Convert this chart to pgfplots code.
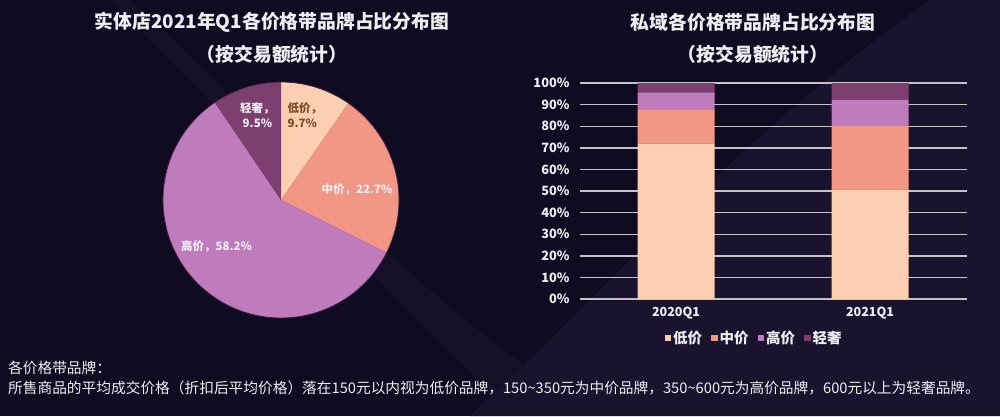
\documentclass[border=0pt]{standalone}
\usepackage{pgfplots}
\pgfplotsset{compat=1.18}
\usepackage{pgfplotstable}
\usepackage{fontspec}
\setmainfont{Noto Sans CJK SC}
\definecolor{bg}{HTML}{0F0B21}
\definecolor{bgl}{HTML}{19132E}
\definecolor{cLow}{HTML}{FDCFB2}
\definecolor{cMid}{HTML}{F29686}
\definecolor{cHigh}{HTML}{BF7BBB}
\definecolor{cLux}{HTML}{7D3F6F}
\definecolor{gridc}{HTML}{C4C2CC}
\definecolor{txt}{HTML}{EEEEF2}
\definecolor{lowtxt}{HTML}{7A4A28}

\pgfplotstableread{
q low mid high lux
0 72.1 15.5 8.1 4.3
1 50.8 29.1 12.4 7.7
}\bardata

\def\pLow{9.7}\def\pMid{22.7}\def\pHigh{58.2}\def\pLux{9.5}

\pgfplotsset{sq/.style={legend image code/.code={\fill[##1] (0pt,-3.5pt) rectangle (6.5pt,3pt);}}}

\begin{document}
\begin{tikzpicture}
\begin{scope}[x=1pt,y=1pt]
\fill[bg] (0,0) rectangle (1000,416);
\fill[bgl] (470,0) .. controls (600,120) and (750,290) .. (930,416) -- (1000,416) -- (1000,0) -- cycle;
\fill[bgl,opacity=0.6] (130,416) .. controls (260,300) and (380,150) .. (540,40) -- (520,0) .. controls (380,120) and (250,280) .. (110,416) -- cycle;
% titles
\node[text=txt,font=\bfseries\fontsize{18.8}{22}\selectfont] at (272,394) {实体店2021年Q1各价格带品牌占比分布图};
\node[text=txt,font=\bfseries\fontsize{18.8}{22}\selectfont] at (272,362) {（按交易额统计）};
\node[text=txt,font=\bfseries\fontsize{18.8}{22}\selectfont] at (753,394) {私域各价格带品牌占比分布图};
\node[text=txt,font=\bfseries\fontsize{18.8}{22}\selectfont] at (753,362) {（按交易额统计）};
% footnote
\node[anchor=west,text=txt,font=\fontsize{14.7}{17}\selectfont,inner sep=0pt] at (8,48) {各价格带品牌：};
\node[anchor=west,text=txt,font=\fontsize{14.7}{17}\selectfont,inner sep=0pt] at (8,28) {所售商品的平均成交价格（折扣后平均价格）落在150元以内视为低价品牌，150\textasciitilde350元为中价品牌，350\textasciitilde600元为高价品牌，600元以上为轻奢品牌。};
\end{scope}

\pgfmathsetmacro\tot{\pLow+\pMid+\pHigh+\pLux}
\pgfmathsetmacro\aA{90}
\pgfmathsetmacro\aB{90-360*(\pLow/\tot)}
\pgfmathsetmacro\aC{\aB-360*(\pMid/\tot)}
\pgfmathsetmacro\aD{\aC-360*(\pHigh/\tot)}
\pgfmathsetmacro\aE{\aD-360*(\pLux/\tot)}

\begin{axis}[at={(281pt,216pt)}, anchor=center, scale only axis,
  width=236pt, height=236pt, xmin=-1, xmax=1, ymin=-1, ymax=1,
  hide axis, clip=false]
\fill[cLow] (axis cs:0,0) -- (axis cs:{cos(\aA)},{sin(\aA)}) arc[start angle=\aA, end angle=\aB, radius=118pt] -- cycle;
\fill[cMid] (axis cs:0,0) -- (axis cs:{cos(\aB)},{sin(\aB)}) arc[start angle=\aB, end angle=\aC, radius=118pt] -- cycle;
\fill[cHigh] (axis cs:0,0) -- (axis cs:{cos(\aC)},{sin(\aC)}) arc[start angle=\aC, end angle=\aD, radius=118pt] -- cycle;
\fill[cLux] (axis cs:0,0) -- (axis cs:{cos(\aD)},{sin(\aD)}) arc[start angle=\aD, end angle=\aE, radius=118pt] -- cycle;
\draw[color=bg!60!cLux, line width=0.8pt] (axis cs:0,0) circle[radius=118pt];
\node[text=lowtxt,font=\bfseries\fontsize{11.5}{15}\selectfont,align=left,anchor=west,inner sep=0pt] at (axis cs:0.055,0.715) {低价，\\9.7\%};
\node[text=txt,font=\bfseries\fontsize{11.5}{15}\selectfont,align=center,inner sep=0pt] at (axis cs:-0.20,0.715) {轻奢，\\9.5\%};
\node[text=txt,font=\bfseries\fontsize{11.5}{15}\selectfont,inner sep=0pt] at (axis cs:0.645,0.093) {中价，22.7\%};
\node[text=txt,font=\bfseries\fontsize{11.5}{15}\selectfont,inner sep=0pt] at (axis cs:-0.547,-0.39) {高价，58.2\%};
\end{axis}

\begin{axis}[at={(580pt,117pt)}, anchor=south west, scale only axis,
  width=387pt, height=216pt, xmin=-0.495, xmax=1.5, ymin=0, ymax=100,
  ybar stacked, bar width=77pt,
  axis line style={draw=none}, major tick style={draw=none},
  ymajorgrids, major grid style={gridc, line width=1.4pt},
  ytick={0,10,...,100}, yticklabel={\pgfmathprintnumber{\tick}\%},
  xtick={0,1}, xticklabels={2020Q1,2021Q1},
  /pgf/number format/assume math mode=true,
  yticklabel style={text=txt, font=\bfseries\fontsize{12.8}{14}\selectfont, xshift=-7pt},
  xticklabel style={text=txt, font=\bfseries\fontsize{12.5}{14}\selectfont, yshift=-4pt},
  legend style={draw=none, fill=none, text=txt, font=\bfseries\fontsize{14.5}{16}\selectfont,
    legend columns=4, at={(0.45,-0.18)}, anchor=center,
    /tikz/every even column/.append style={column sep=7pt}},
  ]
\addplot[fill=cLow, draw=none, sq] table[x=q,y=low]{\bardata};
\addplot[fill=cMid, draw=none, sq] table[x=q,y=mid]{\bardata};
\addplot[fill=cHigh, draw=none, sq] table[x=q,y=high]{\bardata};
\addplot[fill=cLux, draw=none, sq] table[x=q,y=lux]{\bardata};
\legend{低价,中价,高价,轻奢}
\end{axis}
\end{tikzpicture}
\end{document}
